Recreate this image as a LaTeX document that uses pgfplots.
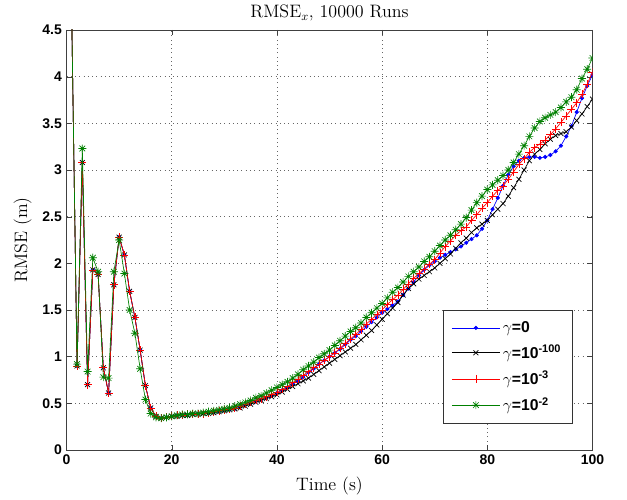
\documentclass[border=0pt]{standalone}
\usepackage{fontspec}
\newfontfamily\arial{Liberation Sans}
\usepackage{pgfplots}
\usepackage{pgfplotstable}
\pgfplotsset{compat=1.18}

% MATLAB-like '*' marker: + and x on top of each other
\pgfdeclareplotmark{ast8}{%
  \pgfpathmoveto{\pgfpoint{-\pgfplotmarksize}{0pt}}\pgfpathlineto{\pgfpoint{\pgfplotmarksize}{0pt}}%
  \pgfpathmoveto{\pgfpoint{0pt}{-\pgfplotmarksize}}\pgfpathlineto{\pgfpoint{0pt}{\pgfplotmarksize}}%
  \pgfpathmoveto{\pgfpoint{-0.707\pgfplotmarksize}{-0.707\pgfplotmarksize}}\pgfpathlineto{\pgfpoint{0.707\pgfplotmarksize}{0.707\pgfplotmarksize}}%
  \pgfpathmoveto{\pgfpoint{-0.707\pgfplotmarksize}{0.707\pgfplotmarksize}}\pgfpathlineto{\pgfpoint{0.707\pgfplotmarksize}{-0.707\pgfplotmarksize}}%
  \pgfusepathqstroke}

\definecolor{mblue}{rgb}{0,0,1}
\definecolor{mred}{rgb}{1,0,0}
\definecolor{mgreen}{rgb}{0,0.5,0}

% x, gamma=0 (b), 1e-100 (k), 1e-3 (r), 1e-2 (g)
\pgfplotstableread{
x b k r g
1 4.60 4.60 4.60 4.60
2 0.90 0.90 0.90 0.92
3 3.08 3.08 3.08 3.23
4 0.70 0.70 0.70 0.84
5 1.93 1.93 1.93 2.06
6 1.88 1.88 1.88 1.91
7 0.88 0.88 0.88 0.78
8 0.61 0.61 0.61 0.77
9 1.77 1.77 1.77 1.91
10 2.28 2.28 2.28 2.25
11 2.09 2.09 2.09 1.89
12 1.70 1.70 1.70 1.50
13 1.42 1.42 1.42 1.25
14 1.07 1.07 1.07 0.87
15 0.69 0.69 0.69 0.54
16 0.45 0.45 0.45 0.39
17 0.36 0.36 0.36 0.35
18 0.34 0.34 0.34 0.34
19 0.35 0.35 0.35 0.35
20 0.36 0.36 0.36 0.36
21 0.37 0.36 0.37 0.37
22 0.37 0.37 0.37 0.38
23 0.38 0.37 0.38 0.38
24 0.38 0.38 0.38 0.39
25 0.39 0.38 0.39 0.39
26 0.39 0.39 0.39 0.40
27 0.40 0.39 0.40 0.41
28 0.40 0.40 0.41 0.42
29 0.41 0.41 0.42 0.43
30 0.42 0.42 0.43 0.44
31 0.43 0.43 0.44 0.45
32 0.44 0.44 0.45 0.47
33 0.46 0.45 0.47 0.49
34 0.48 0.47 0.49 0.51
35 0.50 0.49 0.51 0.53
36 0.52 0.51 0.53 0.56
37 0.54 0.53 0.55 0.58
38 0.56 0.55 0.57 0.61
39 0.58 0.57 0.60 0.64
40 0.61 0.59 0.62 0.67
41 0.64 0.62 0.65 0.70
42 0.67 0.65 0.68 0.73
43 0.71 0.68 0.72 0.77
44 0.74 0.71 0.76 0.81
45 0.78 0.74 0.80 0.86
46 0.83 0.77 0.84 0.90
47 0.87 0.81 0.88 0.94
48 0.92 0.85 0.92 0.99
49 0.96 0.89 0.96 1.03
50 1.00 0.93 1.00 1.07
51 1.04 0.97 1.04 1.12
52 1.08 1.01 1.09 1.17
53 1.13 1.05 1.14 1.22
54 1.18 1.09 1.19 1.27
55 1.22 1.13 1.24 1.31
56 1.27 1.18 1.29 1.36
57 1.32 1.23 1.35 1.42
58 1.37 1.28 1.40 1.47
59 1.42 1.34 1.45 1.52
60 1.47 1.40 1.50 1.57
61 1.51 1.46 1.56 1.63
62 1.55 1.52 1.61 1.69
63 1.59 1.58 1.66 1.74
64 1.66 1.66 1.72 1.80
65 1.73 1.73 1.78 1.86
66 1.80 1.78 1.84 1.91
67 1.87 1.83 1.89 1.96
68 1.93 1.87 1.94 2.02
69 1.98 1.91 1.99 2.07
70 2.02 1.95 2.04 2.13
71 2.06 2.00 2.11 2.19
72 2.09 2.05 2.18 2.25
73 2.12 2.10 2.24 2.30
74 2.15 2.16 2.30 2.36
75 2.18 2.22 2.35 2.42
76 2.22 2.27 2.39 2.49
77 2.26 2.33 2.46 2.57
78 2.30 2.38 2.52 2.65
79 2.37 2.42 2.59 2.72
80 2.46 2.46 2.65 2.79
81 2.58 2.52 2.72 2.84
82 2.70 2.58 2.78 2.89
83 2.83 2.64 2.83 2.94
84 2.95 2.72 2.90 3.00
85 3.04 2.81 2.98 3.08
86 3.10 2.90 3.06 3.17
87 3.13 3.00 3.12 3.26
88 3.14 3.10 3.19 3.36
89 3.14 3.17 3.24 3.45
90 3.13 3.22 3.28 3.52
91 3.14 3.28 3.32 3.56
92 3.16 3.33 3.38 3.59
93 3.20 3.37 3.44 3.62
94 3.26 3.39 3.51 3.67
95 3.36 3.41 3.58 3.73
96 3.47 3.46 3.65 3.78
97 3.62 3.53 3.72 3.86
98 3.77 3.60 3.81 3.98
99 3.90 3.68 3.92 4.08
100 4.02 3.76 4.05 4.20
}\rmse

\begin{document}
\begin{tikzpicture}
\begin{axis}[
  scale only axis, width=394.5pt, height=315pt,
  xmin=0, xmax=100, ymin=0, ymax=4.5,
  xtick={0,20,...,100}, ytick={0,0.5,...,4.5},
  tick align=inside, tick pos=both, major tick length=4pt,
  axis line style={black!75}, tick style={black!75},
  grid=major, major grid style={black!60, dash pattern=on 0.6pt off 2.6pt, line width=0.4pt},
  ticklabel style={font=\arial\bfseries\fontsize{10.5}{12}\selectfont},
  /pgf/number format/assume math mode=true,
  clip marker paths=true,
  legend cell align=left,
  legend style={at={(axis description cs:0.963,0.062)}, anchor=south east,
    font=\arial\bfseries\fontsize{11.8}{13}\selectfont, draw=black!80, line width=0.6pt,
    row sep=4pt, inner xsep=6.5pt, inner ysep=6pt,
    /tikz/every even column/.append style={column sep=1pt}},
  legend image code/.code={\draw[mark repeat=2, mark phase=2] plot coordinates {(0pt,0pt) (18pt,0pt) (36pt,0pt)};},
  every axis plot/.append style={line width=0.5pt},
]
\addplot[mblue, mark=*, mark size=1.3pt, mark options={solid, fill=mblue}] table[x=x, y=b] {\rmse};
\addplot[black, mark=x, mark size=2.6pt, mark options={solid}] table[x=x, y=k] {\rmse};
\addplot[mred, mark=+, mark size=3pt, mark options={solid}] table[x=x, y=r] {\rmse};
\addplot[mgreen, mark=ast8, mark size=3pt, mark options={solid}] table[x=x, y=g] {\rmse};
\legend{$\gamma$=0, $\gamma$=10\textsuperscript{-100}, $\gamma$=10\textsuperscript{-3}, $\gamma$=10\textsuperscript{-2}}
\end{axis}
% title and axis labels placed relative to the axis box
\node[anchor=base, font=\fontsize{13.5}{16}\selectfont, inner sep=0pt]
  at ([yshift=9.5pt]current axis.north) {RMSE$_x$, 10000 Runs};
\node[anchor=base, font=\fontsize{13.5}{16}\selectfont, inner sep=0pt]
  at ([yshift=-30.5pt]current axis.south) {Time (s)};
\node[anchor=base, rotate=90, font=\fontsize{13.5}{16}\selectfont, inner sep=0pt]
  at ([xshift=-29.5pt]current axis.west) {RMSE (m)};
\pgfresetboundingbox
\useasboundingbox ([xshift=-49.9pt, yshift=-37.5pt]current axis.south west) rectangle ([xshift=25.9pt, yshift=22.5pt]current axis.north east);
\end{tikzpicture}
\end{document}
